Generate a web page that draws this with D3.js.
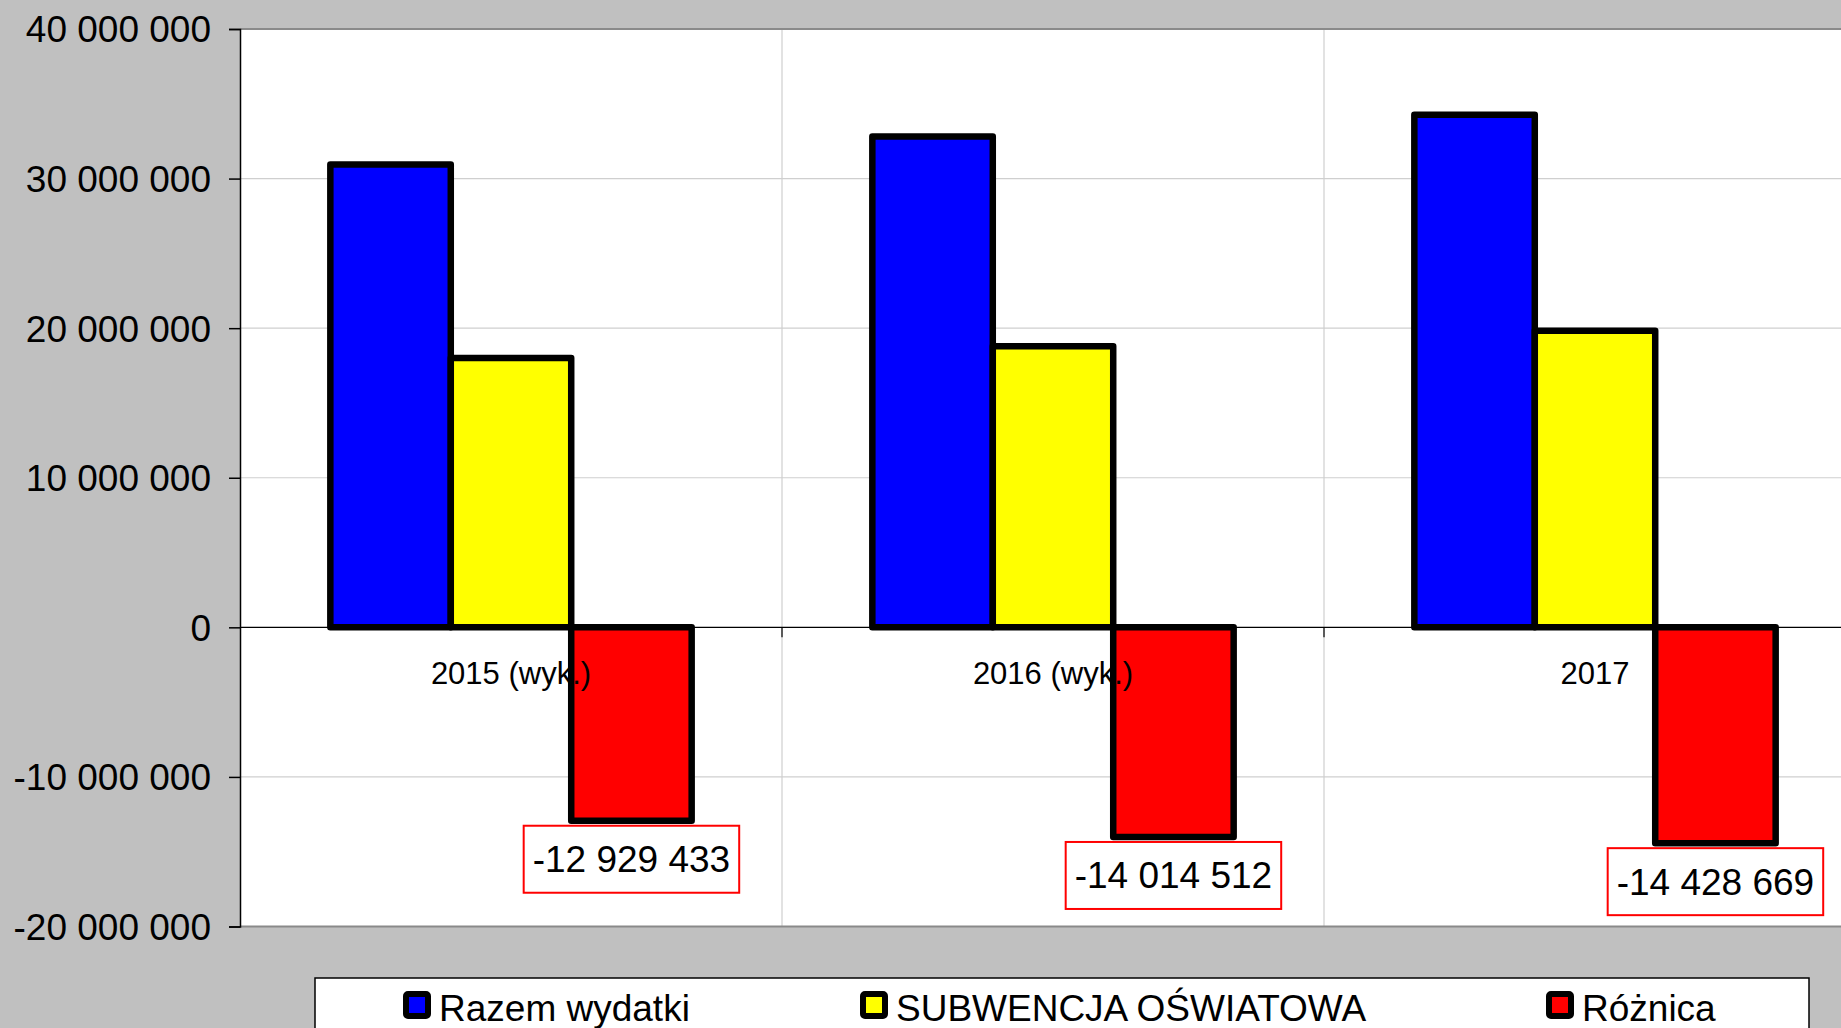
<!DOCTYPE html>
<html>
<head>
<meta charset="utf-8">
<script src="https://cdn.jsdelivr.net/npm/d3@7"></script>
<style>
  html, body { margin: 0; padding: 0; background: #c0c0c0; overflow: hidden; }
  svg { display: block; }
</style>
</head>
<body>
<svg id="chart" width="1841" height="1028"></svg>
<script>
// chart data
var years = ["2015 (wyk.)", "2016 (wyk.)", "2017"];
var seriesNames = ["Razem wydatki", "SUBWENCJA OŚWIATOWA", "Różnica"];
var seriesColors = ["#0000ff", "#ffff00", "#ff0000"];
var razemWydatki = [30940000, 32810000, 34260000];
var subwencja = [18010000, 18795488, 19831331];
var roznica = [-12929433, -14014512, -14428669];
var yTicks = [-20000000, -10000000, 0, 10000000, 20000000, 30000000, 40000000];

var seriesValues = [razemWydatki, subwencja, roznica];

let svg = d3.select("#chart");
let width = 1841, height = 1028;
let font = "'Liberation Sans', Arial, Helvetica, sans-serif";

// plot area (runs off the right edge like the original)
let margin = { top: 29, left: 240, right: -25, bottom: 101.5 };
let plotRight = width - margin.right;
let plotBottom = height - margin.bottom;

svg.append("rect")
  .attr("width", width).attr("height", height)
  .attr("fill", "#c0c0c0");

let pl = d3.formatLocale({ decimal: ",", thousands: " ", grouping: [3], currency: ["", ""], minus: "-" });
let fmt = pl.format(",d");

let yScale = d3.scaleLinear()
  .domain([-20000000, 40000000])
  .range([plotBottom, margin.top]);

let xScale = d3.scaleBand()
  .domain(years)
  .range([margin.left, plotRight])
  .paddingInner(0).paddingOuter(0);

let sScale = d3.scaleBand()
  .domain(d3.range(seriesNames.length))
  .range([0, xScale.bandwidth()])
  .paddingInner(0)
  .paddingOuter(0.75);

// white plot background
svg.append("rect")
  .attr("x", margin.left).attr("y", margin.top)
  .attr("width", plotRight - margin.left)
  .attr("height", plotBottom - margin.top)
  .attr("fill", "#ffffff");

// horizontal gridlines
svg.append("g").selectAll("line")
  .data(yTicks.filter(d => d !== 0 && d !== 40000000 && d !== -20000000))
  .join("line")
  .attr("x1", margin.left).attr("x2", plotRight)
  .attr("y1", d => yScale(d)).attr("y2", d => yScale(d))
  .attr("stroke", "#cfcfcf").attr("stroke-width", 1.2);

// vertical gridlines between categories
svg.append("g").selectAll("line")
  .data(years.slice(1))
  .join("line")
  .attr("x1", d => xScale(d)).attr("x2", d => xScale(d))
  .attr("y1", margin.top).attr("y2", plotBottom)
  .attr("stroke", "#cfcfcf").attr("stroke-width", 1.2);

// top and bottom border of the plot
svg.append("line")
  .attr("x1", margin.left).attr("x2", plotRight)
  .attr("y1", margin.top).attr("y2", margin.top)
  .attr("stroke", "#8a8a8a").attr("stroke-width", 2);
svg.append("line")
  .attr("x1", margin.left).attr("x2", plotRight)
  .attr("y1", plotBottom).attr("y2", plotBottom)
  .attr("stroke", "#8a8a8a").attr("stroke-width", 2);

// zero line + category ticks
svg.append("line")
  .attr("x1", margin.left).attr("x2", plotRight)
  .attr("y1", yScale(0)).attr("y2", yScale(0))
  .attr("stroke", "#000").attr("stroke-width", 1.2);
svg.append("g").selectAll("line")
  .data(years.slice(1))
  .join("line")
  .attr("x1", d => xScale(d)).attr("x2", d => xScale(d))
  .attr("y1", yScale(0)).attr("y2", yScale(0) + 10)
  .attr("stroke", "#000").attr("stroke-width", 1.2);

// y axis
let yAxis = d3.axisLeft(yScale)
  .tickValues(yTicks)
  .tickSize(11)
  .tickPadding(18)
  .tickFormat(d => fmt(d));

let yGroup = svg.append("g")
  .attr("transform", "translate(" + margin.left + ",0)")
  .call(yAxis);
yGroup.select(".domain").attr("stroke", "#000").attr("stroke-width", 1.5);
yGroup.selectAll(".tick line").attr("stroke", "#000").attr("stroke-width", 1.5);
yGroup.selectAll(".tick text")
  .style("font-family", font)
  .style("font-size", "37px")
  .attr("fill", "#000")
  .attr("dy", "0.35em");

// bars
let bars = [];
years.forEach((yr, i) => {
  seriesValues.forEach((vals, s) => {
    bars.push({ year: yr, s: s, value: vals[i] });
  });
});

svg.append("g").selectAll("rect")
  .data(bars)
  .join("rect")
  .attr("x", d => xScale(d.year) + sScale(d.s))
  .attr("width", sScale.bandwidth())
  .attr("y", d => yScale(Math.max(0, d.value)))
  .attr("height", d => Math.abs(yScale(d.value) - yScale(0)))
  .attr("fill", d => seriesColors[d.s])
  .attr("stroke", "#000")
  .attr("stroke-width", 6.5)
  .attr("stroke-linejoin", "round");

// category labels
svg.append("g").selectAll("text")
  .data(years)
  .join("text")
  .text(d => d)
  .attr("x", d => xScale(d) + xScale.bandwidth() / 2)
  .attr("y", yScale(0) + 57)
  .attr("text-anchor", "middle")
  .style("font-family", font)
  .style("font-size", "31px")
  .attr("fill", "#000");

// data labels on the difference series
let labelG = svg.append("g");
years.forEach((yr, i) => {
  let cx = xScale(yr) + sScale(2) + sScale.bandwidth() / 2;
  let top = yScale(roznica[i]) + 5;
  let g = labelG.append("g");
  let box = g.append("rect");
  let t = g.append("text")
    .text(fmt(roznica[i]))
    .attr("x", cx)
    .attr("y", top + 46.5)
    .attr("text-anchor", "middle")
    .style("font-family", font)
    .style("font-size", "37px")
    .attr("fill", "#000");
  let w = t.node().getComputedTextLength() + 18;
  box.attr("x", cx - w / 2).attr("y", top)
    .attr("width", w).attr("height", 67)
    .attr("fill", "#fff")
    .attr("stroke", "#ff0000")
    .attr("stroke-width", 2);
});

// legend
let legend = svg.append("g");
legend.append("rect")
  .attr("x", 315).attr("y", 978)
  .attr("width", 1494).attr("height", 80)
  .attr("fill", "#fff")
  .attr("stroke", "#000")
  .attr("stroke-width", 1.5);

let legendX = [406, 863, 1549];
seriesNames.forEach((name, s) => {
  legend.append("rect")
    .attr("x", legendX[s]).attr("y", 994)
    .attr("width", 22).attr("height", 22)
    .attr("fill", seriesColors[s])
    .attr("stroke", "#000")
    .attr("stroke-width", 6)
    .attr("rx", 2);
  legend.append("text")
    .text(name)
    .attr("x", legendX[s] + 33)
    .attr("y", 1021)
    .style("font-family", font)
    .style("font-size", "37px")
    .attr("fill", "#000");
});
</script>
</body>
</html>
